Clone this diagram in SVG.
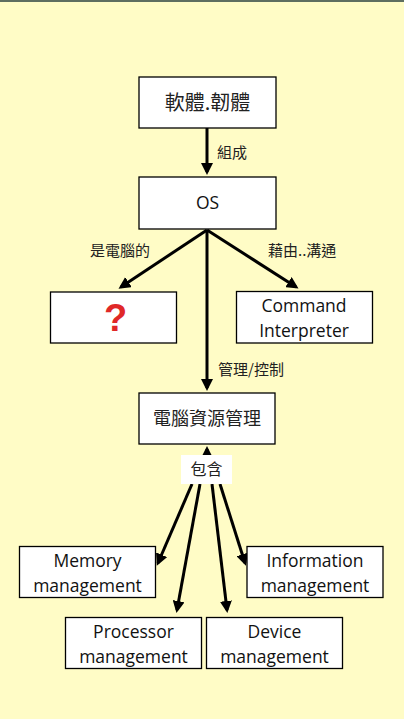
<svg xmlns="http://www.w3.org/2000/svg" width="404" height="719" viewBox="0 0 404 719">
<defs>
<marker id="ah" markerWidth="4" markerHeight="4" refX="3" refY="2" orient="auto" markerUnits="strokeWidth">
<path d="M0,0 L4,2 L0,4 z" fill="#000"/>
</marker>
<style>
.box{fill:#fff;stroke:#000;stroke-width:1.3}
.cjk{font-family:"Noto Sans CJK TC","Noto Sans CJK SC",sans-serif;fill:#222}
.lat{font-family:"Open Sans","Liberation Sans",sans-serif;fill:#111;font-size:17.5px}
.con{stroke:#000;stroke-width:3;fill:none;marker-end:url(#ah)}
</style>
</defs>
<rect x="0" y="0" width="404" height="719" fill="#FFFCC6"/>
<rect x="0" y="0" width="404" height="2" fill="#5E6E60"/>

<g id="connectors">
<line class="con" x1="207" y1="128" x2="207" y2="172"/>
<line class="con" x1="207" y1="230" x2="121" y2="287"/>
<line class="con" x1="207" y1="230" x2="296" y2="287"/>
<line class="con" x1="207" y1="230" x2="207" y2="388"/>
<line class="con" x1="207" y1="456" x2="207" y2="449"/>
<line class="con" x1="192" y1="484" x2="158" y2="563"/>
<line class="con" x1="200" y1="484" x2="177" y2="610"/>
<line class="con" x1="212" y1="484" x2="227" y2="610"/>
<line class="con" x1="220" y1="484" x2="245" y2="563"/>
</g>

<g id="lbl-zucheng"><text class="cjk" x="217" y="158" font-size="15">組成</text></g>
<g id="lbl-shi"><text class="cjk" x="90" y="256" font-size="15">是電腦的</text></g>
<g id="lbl-jieyou"><text class="cjk" x="268" y="256" font-size="15">藉由..溝通</text></g>
<g id="lbl-guanli"><text class="cjk" x="218" y="375" font-size="15">管理/控制</text></g>
<g id="lbl-baohan">
<rect x="181" y="455" width="51" height="29" fill="#fff"/>
<text class="cjk" x="206.5" y="475" font-size="16" text-anchor="middle">包含</text>
</g>

<g id="n-software">
<rect class="box" x="139" y="77" width="137" height="51"/>
<text class="cjk" x="207.5" y="110" font-size="20" text-anchor="middle">軟體.韌體</text>
</g>
<g id="n-os">
<rect class="box" x="139" y="177" width="137" height="52"/>
<text class="lat" x="207.5" y="209" text-anchor="middle">OS</text>
</g>
<g id="n-q">
<rect class="box" x="50.5" y="292" width="126" height="51"/>
<text x="115.5" y="331" font-size="38" font-weight="bold" text-anchor="middle" fill="#E02828" font-family="'Liberation Sans',sans-serif">?</text>
</g>
<g id="n-cmd">
<rect class="box" x="236.5" y="291.5" width="136" height="51.5"/>
<text class="lat" x="304" y="312" text-anchor="middle">Command</text>
<text class="lat" x="304" y="337" text-anchor="middle">Interpreter</text>
</g>
<g id="n-res">
<rect class="box" x="139" y="393" width="136" height="51"/>
<text class="cjk" x="207" y="425" font-size="18" text-anchor="middle">電腦資源管理</text>
</g>
<g id="n-mem">
<rect class="box" x="19.5" y="546.5" width="136" height="51"/>
<text class="lat" x="87.5" y="567" text-anchor="middle">Memory</text>
<text class="lat" x="87.5" y="592" text-anchor="middle">management</text>
</g>
<g id="n-info">
<rect class="box" x="247" y="546.5" width="136" height="51"/>
<text class="lat" x="315" y="567" text-anchor="middle">Information</text>
<text class="lat" x="315" y="592" text-anchor="middle">management</text>
</g>
<g id="n-proc">
<rect class="box" x="65.5" y="617.5" width="136" height="51"/>
<text class="lat" x="133.5" y="638" text-anchor="middle">Processor</text>
<text class="lat" x="133.5" y="663" text-anchor="middle">management</text>
</g>
<g id="n-dev">
<rect class="box" x="206.5" y="617.5" width="136" height="51"/>
<text class="lat" x="274.5" y="638" text-anchor="middle">Device</text>
<text class="lat" x="274.5" y="663" text-anchor="middle">management</text>
</g>
</svg>
